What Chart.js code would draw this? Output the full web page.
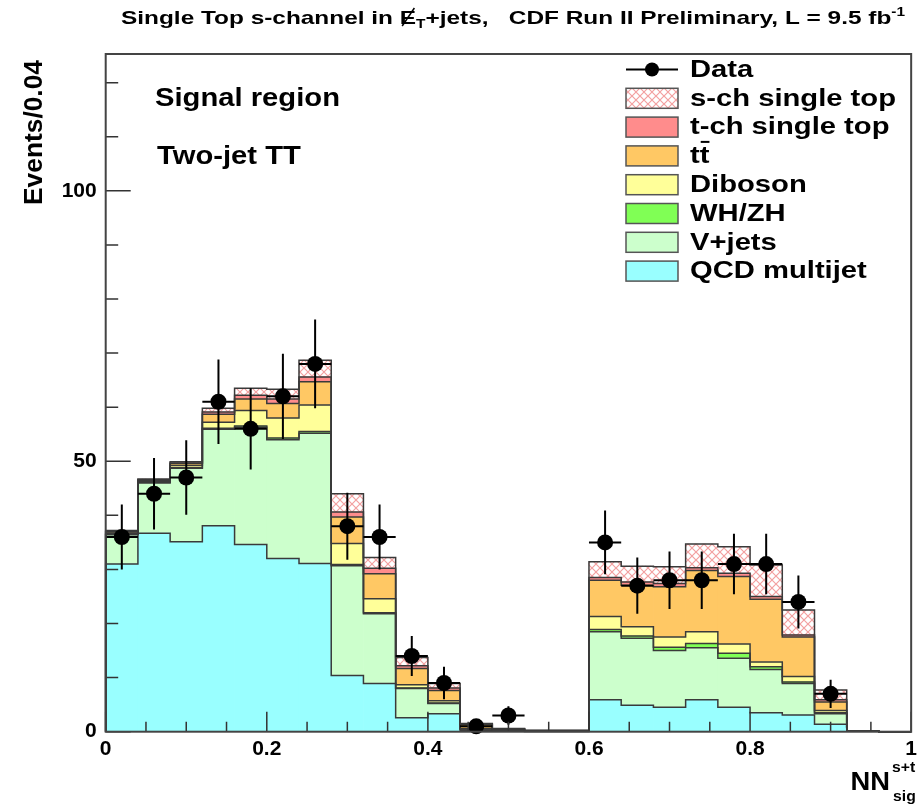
<!DOCTYPE html>
<html>
<head>
<meta charset="utf-8">
<script src="https://cdn.jsdelivr.net/npm/chart.js@4.4.1/dist/chart.umd.min.js"></script>
<style>
  html, body { margin: 0; padding: 0; background: #fff; }
</style>
</head>
<body>
<canvas id="nn-sig" width="922" height="808"></canvas>
<script>
// NN output bins, width 0.04
const binCenters = [0.02, 0.06, 0.10, 0.14, 0.18, 0.22, 0.26, 0.30, 0.34, 0.38, 0.42, 0.46, 0.50,
                    0.54, 0.58, 0.62, 0.66, 0.70, 0.74, 0.78, 0.82, 0.86, 0.90, 0.94, 0.98];
const binWidth = 0.04;

// stacked predictions, bottom to top
const qcdMultijet = [31.0, 36.7, 35.1, 38.1, 34.6, 32.0, 31.1, 10.4, 8.9, 2.6, 3.3, 0.2, 0.1, 0.05, 0.05, 5.9, 4.9, 4.5, 5.9, 4.5, 3.5, 3.1, 1.4, 0.1, 0];
const vJets       = [5.4, 9.3, 13.6, 17.8, 21.7, 22.0, 24.1, 20.3, 12.9, 5.4, 1.9, 0.3, 0.2, 0.1, 0.1, 12.6, 12.4, 10.5, 9.6, 9.1, 8.0, 5.8, 1.9, 0, 0];
const whZh        = [0.1, 0.1, 0.1, 0.2, 0.2, 0.3, 0.3, 0.2, 0.2, 0.1, 0.1, 0, 0, 0, 0, 0.4, 0.4, 0.6, 0.8, 0.9, 0.5, 0.3, 0.2, 0, 0];
const diboson     = [0.2, 0.2, 0.4, 1.1, 2.9, 3.7, 4.9, 3.9, 2.6, 0.6, 0.4, 0.1, 0.05, 0, 0, 2.4, 1.7, 1.9, 2.2, 1.7, 0.9, 1.0, 0.4, 0, 0];
const ttbar       = [0.2, 0.2, 0.4, 1.5, 2.1, 2.7, 4.3, 4.9, 4.6, 3.0, 1.9, 0.7, 0.2, 0.05, 0.05, 6.7, 7.7, 9.3, 11.3, 12.5, 11.6, 7.3, 1.6, 0, 0];
const tChannel    = [0.1, 0.1, 0.1, 0.4, 0.7, 0.8, 0.9, 0.9, 1.0, 0.5, 0.5, 0.1, 0, 0, 0, 0.5, 0.6, 0.6, 0.5, 0.6, 0.5, 0.4, 0.4, 0, 0];
const sChannel    = [0.2, 0.1, 0.2, 0.7, 1.3, 1.8, 3.1, 3.4, 2.0, 1.5, 0.8, 0.1, 0.05, 0, 0, 2.9, 2.9, 3.1, 4.4, 4.9, 5.8, 4.6, 1.8, 0, 0];

// observed events and their errors
const dataCounts = [36, 44, 47, 61, 56, 62, 68, 38, 36, 14, 9, 1, 3, null, null, 35, 27, 28, 28, 31, 31, 24, 7, null, null];
const dataErrors = [6.0, 6.6, 6.9, 7.8, 7.5, 7.9, 8.2, 6.2, 6.0, 3.7, 3.0, 1.0, 1.7, null, null, 5.9, 5.2, 5.3, 5.3, 5.6, 5.6, 4.9, 2.6, null, null];

// axis ticks
const xTickValues = [0, 0.2, 0.4, 0.6, 0.8, 1];
const yTickValues = [0, 50, 100];

const FONT = '"Liberation Sans", Arial, sans-serif';

function crossHatch() {
  const c = document.createElement('canvas');
  c.width = 8; c.height = 8;
  const g = c.getContext('2d');
  g.fillStyle = '#fff';
  g.fillRect(0, 0, 8, 8);
  g.strokeStyle = '#f3a0a0';
  g.lineWidth = 1.2;
  g.beginPath();
  g.moveTo(0, 0); g.lineTo(8, 8);
  g.moveTo(8, 0); g.lineTo(0, 8);
  g.stroke();
  return g.createPattern(c, 'repeat');
}
const hatch = crossHatch();

const stackLayers = [
  { label: 'QCD multijet', values: qcdMultijet, color: '#99ffff' },
  { label: 'V+jets', values: vJets, color: '#ccffcc' },
  { label: 'WH/ZH', values: whZh, color: '#80ff55' },
  { label: 'Diboson', values: diboson, color: '#ffff99' },
  { label: 'tt', values: ttbar, color: '#ffc864' },
  { label: 't-ch single top', values: tChannel, color: '#ff8c8c' },
  { label: 's-ch single top', values: sChannel, color: hatch }
];

function toXY(arr) {
  return arr.map((v, i) => ({ x: binCenters[i], y: v }));
}

// draws text squeezed/stretched horizontally by sx
function textAt(ctx, str, x, y, font, sx, align) {
  ctx.save();
  ctx.font = font;
  ctx.translate(x, y);
  ctx.scale(sx, 1);
  ctx.textAlign = align || 'left';
  ctx.fillText(str, 0, 0);
  ctx.restore();
}
function fitScale(ctx, str, font, width) {
  ctx.save();
  ctx.font = font;
  const w = ctx.measureText(str).width;
  ctx.restore();
  return width / w;
}

const histOutline = {
  id: 'histOutline',
  afterDatasetDraw(chart, args) {
    if (args.index !== 1) return;
    const ctx = chart.ctx, xs = chart.scales.x, ys = chart.scales.y;
    const cum = binCenters.map(() => 0);
    ctx.save();
    ctx.strokeStyle = '#3a3a3a';
    ctx.lineWidth = 1.5;
    stackLayers.forEach(layer => {
      layer.values.forEach((v, i) => { cum[i] += v; });
      ctx.beginPath();
      ctx.moveTo(xs.getPixelForValue(binCenters[0] - binWidth / 2), ys.getPixelForValue(0));
      cum.forEach((c, i) => {
        const py = ys.getPixelForValue(c);
        ctx.lineTo(xs.getPixelForValue(binCenters[i] - binWidth / 2), py);
        ctx.lineTo(xs.getPixelForValue(binCenters[i] + binWidth / 2), py);
      });
      ctx.lineTo(xs.getPixelForValue(binCenters[binCenters.length - 1] + binWidth / 2), ys.getPixelForValue(0));
      ctx.stroke();
    });
    ctx.restore();
  },
  beforeDatasetDraw(chart, args) {
    if (args.index !== 0) return;
    const ctx = chart.ctx, xs = chart.scales.x, ys = chart.scales.y;
    ctx.save();
    ctx.strokeStyle = '#000';
    ctx.lineWidth = 2;
    dataCounts.forEach((n, i) => {
      if (n === null) return;
      const px = xs.getPixelForValue(binCenters[i]);
      const py = ys.getPixelForValue(n);
      ctx.beginPath();
      ctx.moveTo(px, ys.getPixelForValue(Math.max(0, n - dataErrors[i])));
      ctx.lineTo(px, ys.getPixelForValue(n + dataErrors[i]));
      ctx.moveTo(xs.getPixelForValue(binCenters[i] - binWidth / 2), py);
      ctx.lineTo(xs.getPixelForValue(binCenters[i] + binWidth / 2), py);
      ctx.stroke();
    });
    ctx.restore();
  }
};

const frameAndText = {
  id: 'frameAndText',
  afterDraw(chart) {
    const ctx = chart.ctx, xs = chart.scales.x, ys = chart.scales.y;
    const a = chart.chartArea;

    // ticks inside the frame
    ctx.save();
    ctx.strokeStyle = '#333';
    ctx.lineWidth = 1.5;
    ctx.beginPath();
    for (let v = 0; v <= 120; v += 10) {
      const py = ys.getPixelForValue(v);
      const len = (v % 50 === 0) ? 25 : 12.5;
      ctx.moveTo(a.left, py); ctx.lineTo(a.left + len, py);
    }
    for (let k = 0; k <= 20; k++) {
      const px = xs.getPixelForValue(k * 0.05);
      const len = (k % 4 === 0) ? 20 : 10;
      ctx.moveTo(px, a.bottom); ctx.lineTo(px, a.bottom - len);
    }
    ctx.stroke();
    ctx.strokeStyle = '#444';
    ctx.lineWidth = 2;
    ctx.strokeRect(a.left, a.top, a.right - a.left, a.bottom - a.top);
    ctx.restore();

    ctx.save();
    ctx.fillStyle = '#000';
    ctx.textBaseline = 'alphabetic';

    // title
    const tBig = 'bold 19px ' + FONT, tSmall = 'bold 12px ' + FONT;
    const parts = [
      { t: 'Single Top s-channel in ', f: tBig, dy: 0 },
      { t: 'E', f: tBig, dy: 0, slash: true },
      { t: 'T', f: tSmall, dy: 4 },
      { t: '+jets,   CDF Run II Preliminary, L = 9.5 fb', f: tBig, dy: 0 },
      { t: '-1', f: tSmall, dy: -8 }
    ];
    let total = 0;
    parts.forEach(p => { ctx.font = p.f; p.w = ctx.measureText(p.t).width; total += p.w; });
    const tsx = 784 / total;
    let tx = 121;
    const tBase = 24;
    parts.forEach(p => {
      textAt(ctx, p.t, tx, tBase + p.dy, p.f, tsx);
      if (p.slash) {
        ctx.save();
        ctx.strokeStyle = '#000';
        ctx.lineWidth = 1.5;
        ctx.beginPath();
        ctx.moveTo(tx + p.w * tsx * 0.15, tBase + 2);
        ctx.lineTo(tx + p.w * tsx * 0.9, tBase - 16);
        ctx.stroke();
        ctx.restore();
      }
      tx += p.w * tsx;
    });

    // y title
    const yFont = 'bold 25px ' + FONT;
    const ysx = fitScale(ctx, 'Events/0.04', yFont, 145);
    ctx.save();
    ctx.translate(42, 60);
    ctx.rotate(-Math.PI / 2);
    textAt(ctx, 'Events/0.04', 0, 0, yFont, ysx, 'right');
    ctx.restore();

    // x title NN^{s+t}_{sig}
    textAt(ctx, 'NN', 890, 790, 'bold 26px ' + FONT, 1.05, 'right');
    textAt(ctx, 's+t', 892, 772, 'bold 15px ' + FONT, 1.05);
    textAt(ctx, 'sig', 893, 801, 'bold 15px ' + FONT, 1.05);

    // region labels
    const rFont = 'bold 25px ' + FONT;
    const rsx = fitScale(ctx, 'Signal region', rFont, 185);
    textAt(ctx, 'Signal region', 155, 106, rFont, rsx);
    textAt(ctx, 'Two-jet TT', 157, 164, rFont, rsx);

    // legend
    const lFont = 'bold 23px ' + FONT;
    const lsx = fitScale(ctx, 's-ch single top', lFont, 206);
    const rowTop = 69.5, rowStep = 28.8;
    const boxL = 626, boxW = 52, boxH = 20, textX = 690;
    const rows = [{ label: 'Data' }].concat(stackLayers.slice().reverse());
    rows.forEach((r, k) => {
      const cy = rowTop + k * rowStep;
      if (k === 0) {
        ctx.save();
        ctx.strokeStyle = '#000';
        ctx.lineWidth = 2;
        ctx.beginPath();
        ctx.moveTo(boxL, cy); ctx.lineTo(boxL + boxW, cy);
        ctx.stroke();
        ctx.beginPath();
        ctx.arc(boxL + boxW / 2, cy, 7, 0, Math.PI * 2);
        ctx.fill();
        ctx.restore();
      } else {
        ctx.save();
        ctx.fillStyle = r.color;
        ctx.fillRect(boxL, cy - boxH / 2, boxW, boxH);
        ctx.strokeStyle = '#555';
        ctx.lineWidth = 1.5;
        ctx.strokeRect(boxL, cy - boxH / 2, boxW, boxH);
        ctx.restore();
      }
      ctx.save();
      ctx.textBaseline = 'middle';
      textAt(ctx, r.label, textX, cy + 1, lFont, lsx);
      if (r.label === 'tt') {
        ctx.font = lFont;
        const w1 = ctx.measureText('t').width * lsx;
        const w2 = ctx.measureText('tt').width * lsx;
        ctx.strokeStyle = '#000';
        ctx.lineWidth = 2;
        ctx.beginPath();
        ctx.moveTo(textX + w1 + 1, cy - 14);
        ctx.lineTo(textX + w2, cy - 14);
        ctx.stroke();
      }
      ctx.restore();
    });
    ctx.restore();
  }
};

const datasets = [{
  type: 'line',
  label: 'Data',
  data: dataCounts.map((v, i) => ({ x: binCenters[i], y: v })),
  showLine: false,
  pointRadius: 8,
  pointBackgroundColor: '#000',
  pointBorderWidth: 0,
  stack: 'data',
  clip: false
}].concat(stackLayers.map(layer => ({
  label: layer.label,
  data: toXY(layer.values),
  backgroundColor: layer.color,
  borderWidth: 0,
  stack: 'mc'
})));

new Chart(document.getElementById('nn-sig'), {
  type: 'bar',
  data: { datasets: datasets },
  options: {
    responsive: false,
    animation: false,
    events: [],
    layout: { padding: { top: 54, right: 7.7, left: 0, bottom: 0 } },
    datasets: { bar: { barPercentage: 1, categoryPercentage: 1 } },
    plugins: { legend: { display: false }, tooltip: { enabled: false } },
    scales: {
      x: {
        type: 'linear', min: 0, max: 1, offset: false, stacked: true,
        grid: { display: false, drawTicks: false },
        border: { display: false },
        afterBuildTicks: s => { s.ticks = xTickValues.map(v => ({ value: v })); },
        afterFit: s => { s.height = 808 - 731.7; },
        ticks: {
          padding: 5, color: '#000', maxRotation: 0, autoSkip: false,
          font: { family: FONT, size: 21, weight: 'bold' },
          callback: v => String(Math.round(v * 10) / 10)
        }
      },
      y: {
        min: 0, max: 125.3, stacked: true,
        grid: { display: false, drawTicks: false },
        border: { display: false },
        afterBuildTicks: s => { s.ticks = yTickValues.map(v => ({ value: v })); },
        afterFit: s => { s.width = 105.7; },
        ticks: {
          padding: 9, color: '#000',
          font: { family: FONT, size: 21, weight: 'bold' }
        }
      }
    }
  },
  plugins: [histOutline, frameAndText]
});
</script>
</body>
</html>
